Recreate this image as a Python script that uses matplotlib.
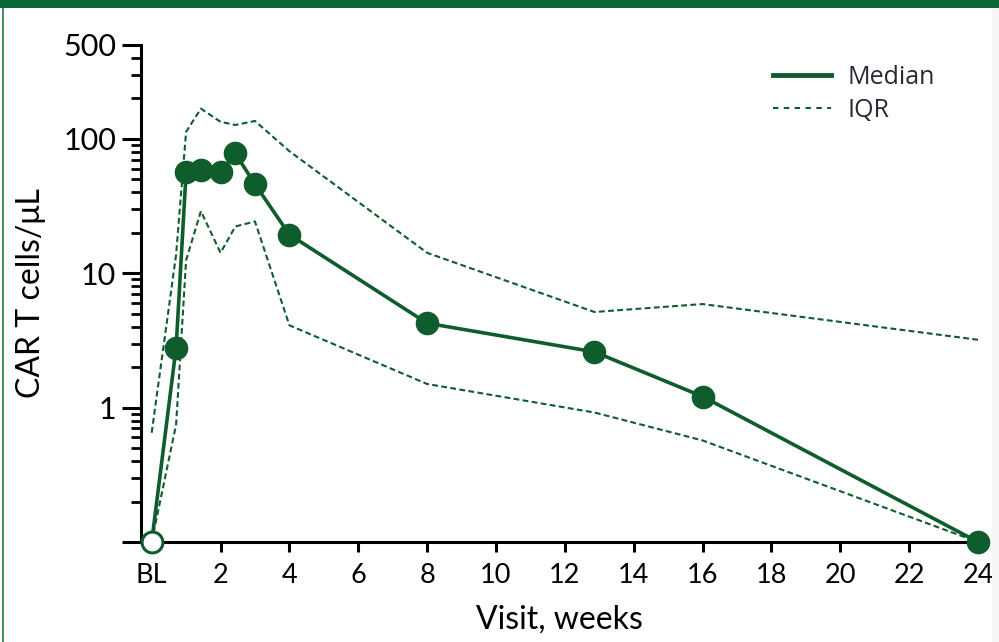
import numpy as np
import matplotlib
matplotlib.use("Agg")
import matplotlib.pyplot as plt
from matplotlib.ticker import FixedLocator, LogLocator, NullFormatter, FixedFormatter
from matplotlib.lines import Line2D
from matplotlib.patches import Rectangle

# data (0 = below detection, drawn on the axis floor)
weeks = [0, 0.71, 1.0, 1.43, 2.0, 2.43, 3.0, 4.0, 8.0, 12.86, 16.0, 24.0]
median = [0, 2.8, 56.5, 58.5, 56.5, 78, 46, 19.4, 4.25, 2.6, 1.21, 0]
iqr_low = [0, 0.75, 12.5, 29, 14.2, 22.3, 24.3, 4.1, 1.5, 0.92, 0.57, 0]
iqr_high = [0.65, 13.8, 113, 168, 134, 127, 136, 81, 14.2, 5.15, 5.9, 3.2]

xtick_vals = [0, 2, 4, 6, 8, 10, 12, 14, 16, 18, 20, 22, 24]
xtick_labels = ["BL"] + [str(v) for v in xtick_vals[1:]]
ytick_vals = [0.1, 1, 10, 100, 500]
ytick_labels = ["", "1", "10", "100", "500"]
floor = 0.1

green = "#0f5c2c"
band = "#096937"

def on_floor(v):
    v = np.asarray(v, dtype=float)
    return np.where(v <= 0, floor, v)

fig = plt.figure(figsize=(9.99, 6.42), dpi=100)
fig.patch.set_facecolor("white")

# frame decoration
fig.add_artist(Rectangle((0, 1 - 8 / 642), 1, 8 / 642, transform=fig.transFigure,
                         facecolor=band, edgecolor="none"))
fig.add_artist(Rectangle((2 / 999, 0), 1.5 / 999, 1 - 8 / 642, transform=fig.transFigure,
                         facecolor="#3c9463", edgecolor="none"))
fig.add_artist(Rectangle((992 / 999, 0), 7 / 999, 1 - 8 / 642, transform=fig.transFigure,
                         facecolor="#f6f6f6", edgecolor="none"))

ax = fig.add_axes([141 / 999, 100 / 642, 837 / 999, 497 / 642])

x = np.asarray(weeks)
m = on_floor(median)
lo = on_floor(iqr_low)
hi = on_floor(iqr_high)

dash = (2.8, 1.6)
ax.plot(x, hi, color=green, lw=1.5, dashes=dash, clip_on=False, zorder=2)
ax.plot(x, lo, color=green, lw=1.5, dashes=dash, clip_on=False, zorder=2)
ax.plot(x, m, color=green, lw=2.6, clip_on=False, zorder=3)
ax.plot(x[1:], m[1:], "o", color=green, ms=16, mec=green, clip_on=False, zorder=4)
ax.plot(x[:1], m[:1], "o", mfc="white", mec=green, mew=2.2, ms=15, clip_on=False, zorder=5)

ax.set_yscale("log")
ax.set_ylim(floor, 500)
ax.set_xlim(-0.31, 24)

ax.yaxis.set_major_locator(FixedLocator(ytick_vals))
ax.yaxis.set_major_formatter(FixedFormatter(ytick_labels))
ax.yaxis.set_minor_locator(LogLocator(base=10, subs=np.arange(2, 10)))
ax.yaxis.set_minor_formatter(NullFormatter())
ax.set_xticks(xtick_vals)
ax.set_xticklabels(xtick_labels)

for s in ["top", "right"]:
    ax.spines[s].set_visible(False)
for s in ["left", "bottom"]:
    ax.spines[s].set_linewidth(2.2)

ax.tick_params(axis="y", which="major", length=14, width=2.2, pad=4, labelsize=22)
ax.tick_params(axis="y", which="minor", length=7.5, width=2.0)
ax.tick_params(axis="x", which="major", length=7, width=2.2, pad=8, labelsize=19.5)
for lab in ax.get_xticklabels() + ax.get_yticklabels():
    lab.set_fontfamily("Lato")

ax.set_xlabel("Visit, weeks", fontsize=23, family="Lato", labelpad=12)
ax.set_ylabel("CAR T cells/μL", fontsize=23, family="Lato", labelpad=12)

handles = [Line2D([], [], color=green, lw=3.5),
           Line2D([], [], color=green, lw=1.5, dashes=(2.6, 2.6))]
leg = ax.legend(handles, ["Median", "IQR"], loc="upper right",
                bbox_to_anchor=(0.975, 1.005), frameon=False,
                handlelength=2.3, handletextpad=0.65, labelspacing=0.3,
                prop={"family": "Open Sans", "size": 18})
for t in leg.get_texts():
    t.set_color("#262b33")

fig.savefig("out.png", dpi=100, facecolor="white")
